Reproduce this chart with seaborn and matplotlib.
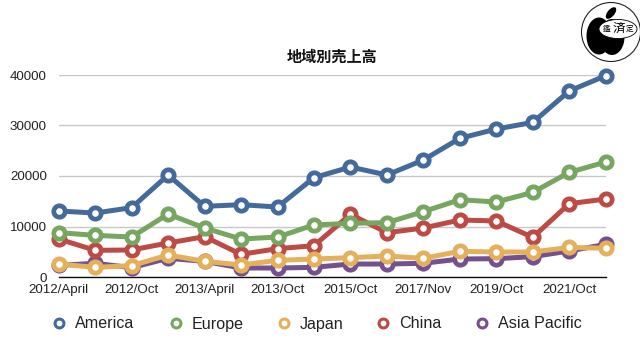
import numpy as np
import pandas as pd
import seaborn as sns
import matplotlib.pyplot as plt
from matplotlib.patches import Circle, Ellipse

# Sales by region
america = [13070, 12670, 13730, 20200, 13990, 14320, 13860, 19670, 21780, 20200, 23170, 27460, 29300, 30620, 36830, 39860]
europe = [8780, 8250, 7920, 12470, 9700, 7520, 7920, 10300, 10630, 10760, 12940, 15310, 14850, 16760, 20720, 22770]
japan = [2570, 1910, 2240, 4360, 3100, 2380, 3300, 3560, 3830, 4160, 3700, 5080, 4950, 4950, 5870, 5680]
china = [7520, 5280, 5350, 6730, 7990, 4490, 5610, 6200, 12410, 8780, 9700, 11290, 11090, 7850, 14520, 15440]
asia_pacific = [2310, 2710, 1850, 3700, 3100, 1780, 1780, 1910, 2570, 2570, 2710, 3560, 3630, 4030, 5150, 6470]

tick_labels = ['2012/April', '2012/Oct', '2013/April', '2013/Oct', '2015/Oct', '2017/Nov', '2019/Oct', '2021/Oct']
legend_order = ['America', 'Europe', 'Japan', 'China', 'Asia Pacific']
draw_order = ['Asia Pacific', 'China', 'Japan', 'Europe', 'America']
colors = {'America': '#44699b', 'Europe': '#76a660', 'Japan': '#e5b05c', 'China': '#bd4b45', 'Asia Pacific': '#75508f'}

df = pd.DataFrame({'America': america, 'Europe': europe, 'Japan': japan, 'China': china, 'Asia Pacific': asia_pacific})
df['pos'] = np.arange(len(df))

sns.set_style('white')
plt.rcParams['font.family'] = ['Liberation Sans', 'Noto Sans CJK JP', 'DejaVu Sans']

fig = plt.figure(figsize=(6.4, 3.6), dpi=100)
ax = fig.add_axes([58.7 / 640, 83 / 360, 547 / 640, 202 / 360])

for i, region in enumerate(draw_order):
    sns.lineplot(data=df, x='pos', y=region, ax=ax, color=colors[region], linewidth=3.6,
                 marker='o', markersize=8.2, markerfacecolor='white',
                 markeredgecolor=colors[region], markeredgewidth=3.4,
                 clip_on=False, zorder=3 + i, errorbar=None)

ax.set_xlim(0, 15)
ax.set_ylim(0, 40000)
ax.set_xticks(df['pos'][::2])
ax.set_xticklabels(tick_labels)
ax.set_yticks([0, 10000, 20000, 30000, 40000])
ax.set_xlabel('')
ax.set_ylabel('')
ax.tick_params(axis='both', length=0, labelsize=9.6, labelcolor='#222222')
ax.tick_params(axis='y', pad=8.6)
ax.tick_params(axis='x', pad=4.7)
ax.grid(axis='y', color='#c8c8c8', linewidth=1)
ax.set_axisbelow(True)
sns.despine(ax=ax, left=True)
ax.spines['bottom'].set_color('#111111')
ax.spines['bottom'].set_linewidth(1)
ax.set_title('地域別売上高', fontsize=10.9, fontweight='bold', pad=9.5, color='#111111')

# Overlay in pixel coordinates for the legend row and the logo
over = fig.add_axes([0, 0, 1, 1], facecolor='none', zorder=10)
over.set_xlim(0, 640)
over.set_ylim(360, 0)
over.axis('off')

legend_x = [58.7, 175.7, 283.7, 383, 481.7]
for region, lx in zip(legend_order, legend_x):
    over.plot([lx], [323], linestyle='none', marker='o', markersize=6.4, markerfacecolor='white',
              markeredgecolor=colors[region], markeredgewidth=2.2)
    over.text(lx + 16, 328.5, region, fontsize=11.6, color='#222222', ha='left', va='baseline')

over.add_patch(Circle((611, 32), 29.5, facecolor='white', edgecolor='#222222', linewidth=0.8))
over.add_patch(Ellipse((599, 36), 25, 37, facecolor='black', edgecolor='none'))
over.add_patch(Ellipse((612, 37), 25, 36, facecolor='black', edgecolor='none'))
over.add_patch(Ellipse((611, 13), 7, 14, angle=40, facecolor='black', edgecolor='none'))
over.add_patch(Ellipse((618, 29), 38, 19, facecolor='white', edgecolor='black', linewidth=0.6))
over.text(607, 29, '鑑', fontsize=5.5, ha='center', va='center', color='black')
over.text(619, 29, '済', fontsize=9, ha='center', va='center', color='black')
over.text(630, 29, '定', fontsize=5.5, ha='center', va='center', color='black')

fig.savefig('out.png', dpi=100)
